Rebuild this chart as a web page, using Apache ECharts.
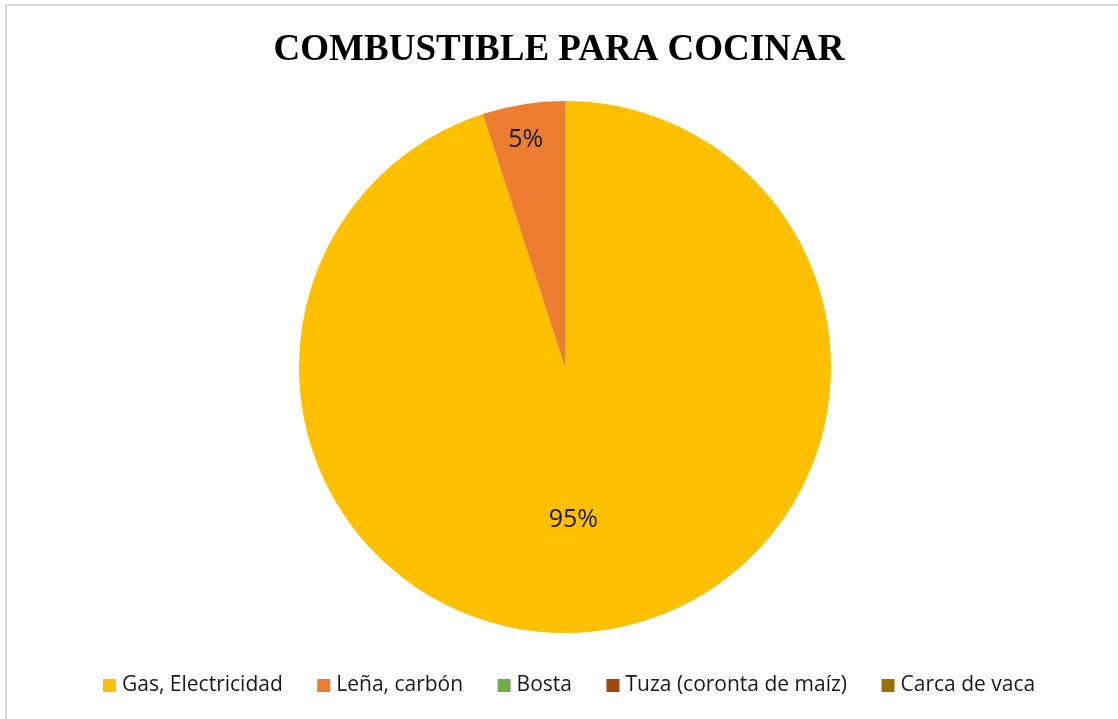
<!DOCTYPE html>
<html>
<head>
<meta charset="utf-8">
<script src="https://cdn.jsdelivr.net/npm/echarts@6/dist/echarts.min.js"></script>
<style>
  html, body { margin: 0; padding: 0; background: #fff; }
  #chart { width: 1118px; height: 719px; }
</style>
</head>
<body>
<div id="chart"></div>
<script>
// Fuel used for cooking, share of households (%)
const categories = ['Gas, Electricidad', 'Leña, carbón', 'Bosta', 'Tuza (coronta de maíz)', 'Carca de vaca'];
const shares = [95, 5, 0, 0, 0];
const colors = ['#FFC000', '#ED7D31', '#70AD47', '#9E480E', '#997300'];

// Per-slice nudges of the percentage labels away from the default inside spot
const labelNudge = [[-13, 19], [-18, -93], [0, 0], [0, 0], [0, 0]];

const chart = echarts.init(document.getElementById('chart'), null, { renderer: 'canvas' });

chart.setOption({
  animation: false,
  backgroundColor: '#ffffff',
  color: colors,
  graphic: [{
    type: 'rect',
    shape: { x: 6, y: 5, width: 1130, height: 740 },
    style: { fill: 'none', stroke: '#d9d9d9', lineWidth: 2 },
    silent: true,
    z: -1
  }],
  title: {
    text: 'COMBUSTIBLE PARA COCINAR',
    left: 'center',
    top: 27,
    textStyle: {
      fontFamily: 'Liberation Serif',
      fontWeight: 'bold',
      fontSize: 37,
      color: '#000000'
    }
  },
  legend: {
    bottom: 18,
    left: 98,
    itemWidth: 13,
    itemHeight: 13,
    itemGap: 34.5,
    icon: 'rect',
    textStyle: {
      fontFamily: 'Open Sans',
      fontSize: 21,
      color: '#1a1a1a',
      padding: [0, 0, 0, 1]
    },
    data: categories
  },
  series: [{
    type: 'pie',
    center: [565, 367],
    radius: 266,
    startAngle: 90,
    clockwise: true,
    stillShowZeroSum: false,
    avoidLabelOverlap: false,
    label: {
      show: true,
      position: 'inside',
      formatter: p => p.value > 0 ? p.value + '%' : '',
      fontFamily: 'Open Sans',
      fontSize: 25,
      color: '#1a1a1a'
    },
    labelLayout: p => ({ dx: labelNudge[p.dataIndex][0], dy: labelNudge[p.dataIndex][1] }),
    labelLine: { show: false },
    itemStyle: { borderWidth: 0 },
    emphasis: { disabled: true },
    data: categories.map((name, i) => ({ name, value: shares[i] }))
  }]
});
</script>
</body>
</html>
